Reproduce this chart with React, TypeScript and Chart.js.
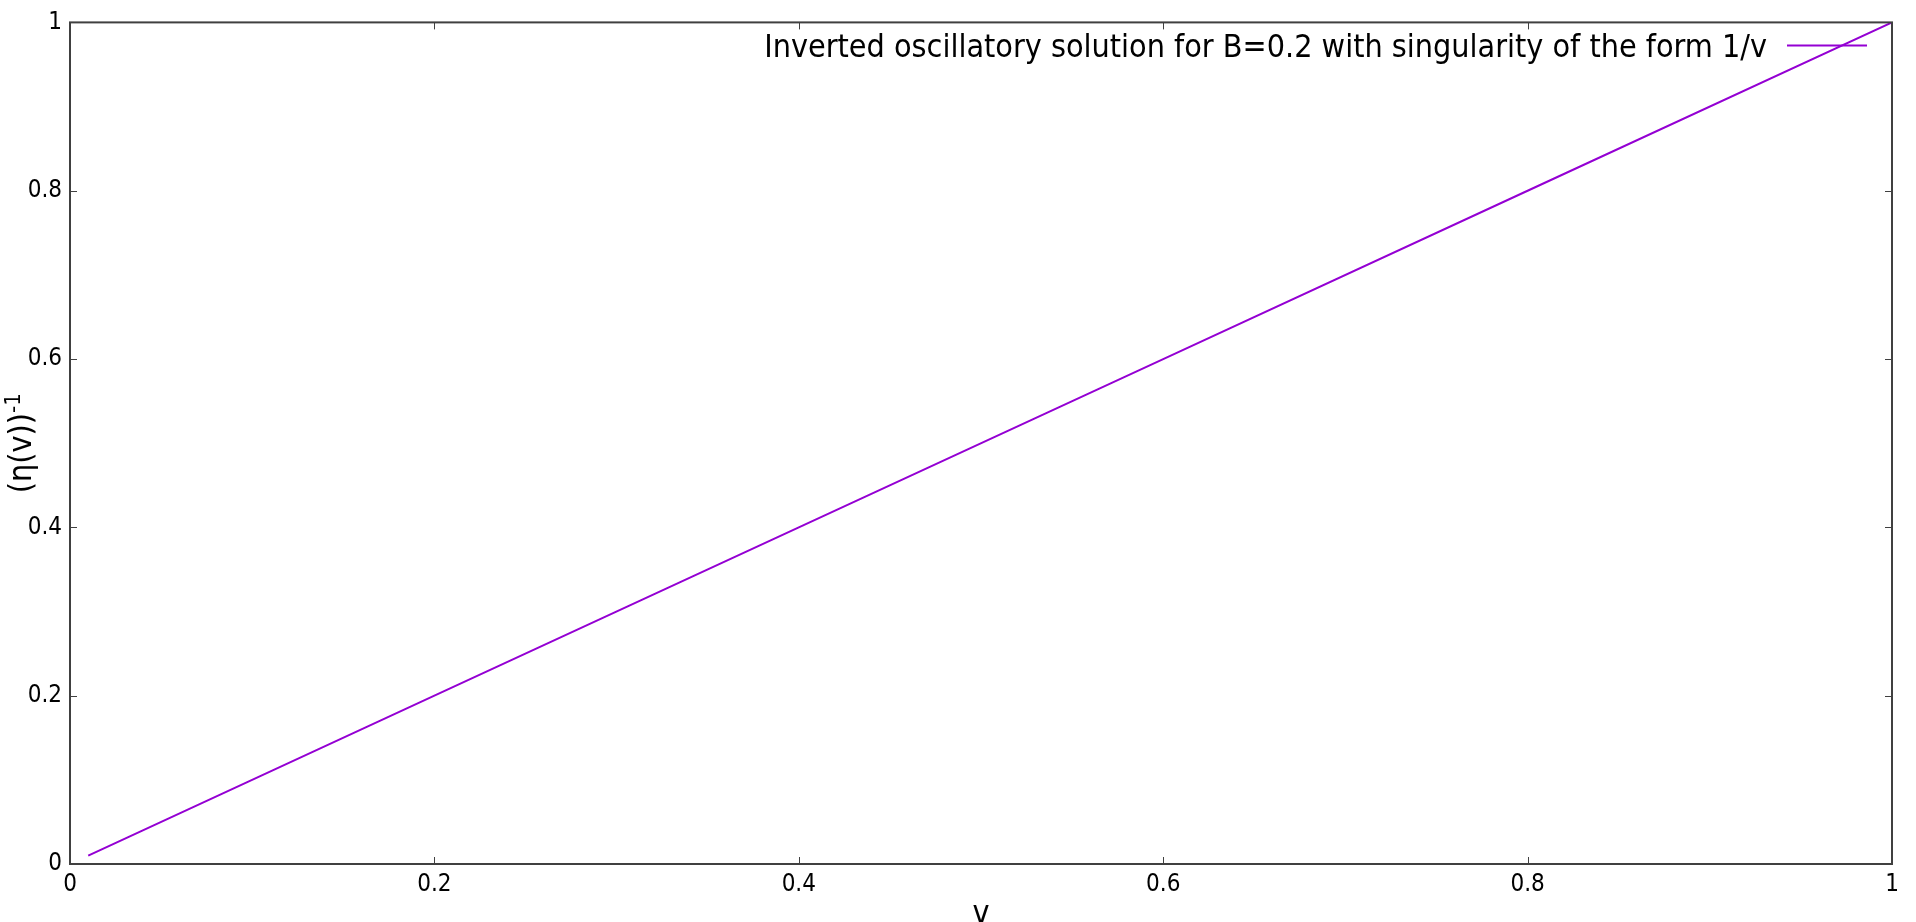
import React, { useEffect, useRef } from "react";
import { Chart, registerables } from "chart.js";

Chart.register(...registerables);

const FONT = '"DejaVu Sans Condensed", "DejaVu Sans", sans-serif';

const seriesLabel = "Inverted oscillatory solution for B=0.2 with singularity of the form 1/v";
const xValues = [0.01, 0.2, 0.4, 0.6, 0.8, 1.0];
const yValues = [0.01, 0.2, 0.4, 0.6, 0.8, 1.0];
const xTitle = "v";
const yTitleMain = "(η(v))";
const yTitleSup = "-1";
const lineColor = "#9400D3";
const axisColor = "#404040";

const frameTicks = {
  id: "frameTicks",
  afterDatasetsDraw(chart: any) {
    const { ctx, chartArea, scales } = chart;
    const { left, right, top, bottom } = chartArea;
    const len = 7;
    ctx.save();
    ctx.strokeStyle = axisColor;
    ctx.lineWidth = 1;
    ctx.beginPath();
    scales.x.ticks.forEach((t: any) => {
      const px = Math.round(scales.x.getPixelForValue(t.value)) + 0.5;
      ctx.moveTo(px, bottom);
      ctx.lineTo(px, bottom - len);
      ctx.moveTo(px, top);
      ctx.lineTo(px, top + len);
    });
    scales.y.ticks.forEach((t: any) => {
      const py = Math.round(scales.y.getPixelForValue(t.value)) + 0.5;
      ctx.moveTo(left, py);
      ctx.lineTo(left + len, py);
      ctx.moveTo(right, py);
      ctx.lineTo(right - len, py);
    });
    ctx.stroke();
    // frame
    ctx.lineWidth = 2;
    ctx.strokeRect(left, top, right - left, bottom - top);
    ctx.restore();
  },
};

const titlesAndLegend = {
  id: "titlesAndLegend",
  afterDraw(chart: any) {
    const { ctx, chartArea } = chart;
    const { left, right, top, bottom } = chartArea;
    ctx.save();
    ctx.fillStyle = "#000";
    // legend
    const legY = 45.5;
    const sampleEnd = right - 25;
    const sampleStart = sampleEnd - 80;
    ctx.font = `32px ${FONT}`;
    ctx.textAlign = "right";
    ctx.textBaseline = "alphabetic";
    ctx.fillText(seriesLabel, sampleStart - 20, legY + 11.5);
    ctx.strokeStyle = lineColor;
    ctx.lineWidth = 2;
    ctx.beginPath();
    ctx.moveTo(sampleStart, legY);
    ctx.lineTo(sampleEnd, legY);
    ctx.stroke();
    // x title
    ctx.textAlign = "center";
    ctx.font = `32px ${FONT}`;
    ctx.fillText(xTitle, (left + right) / 2, 923);
    // y title
    ctx.translate(0, (top + bottom) / 2);
    ctx.rotate(-Math.PI / 2);
    ctx.textAlign = "left";
    ctx.font = `32px ${FONT}`;
    const w1 = ctx.measureText(yTitleMain).width;
    ctx.font = `22px ${FONT}`;
    const w2 = ctx.measureText(yTitleSup).width;
    const start = -(w1 + w2) / 2;
    ctx.font = `32px ${FONT}`;
    ctx.fillText(yTitleMain, start, 30.5);
    ctx.font = `22px ${FONT}`;
    ctx.fillText(yTitleSup, start + w1, 20);
    ctx.restore();
  },
};

export default function App() {
  const ref = useRef<HTMLCanvasElement | null>(null);
  useEffect(() => {
    document.body.style.margin = "0";
    document.body.style.overflow = "hidden";
    const data = xValues.map((x, i) => ({ x, y: yValues[i] }));
    const chart = new Chart(ref.current as HTMLCanvasElement, {
      type: "line",
      data: {
        datasets: [
          {
            label: seriesLabel,
            data,
            borderColor: lineColor,
            borderWidth: 2,
            pointRadius: 0,
            fill: false,
            tension: 0,
          },
        ],
      },
      plugins: [frameTicks, titlesAndLegend],
      options: {
        animation: false,
        responsive: false,
        maintainAspectRatio: false,
        layout: { padding: { top: 19, right: 24, left: 0, bottom: 0 } },
        plugins: { legend: { display: false }, tooltip: { enabled: false } },
        scales: {
          x: {
            type: "linear",
            min: 0,
            max: 1,
            ticks: {
              stepSize: 0.2,
              color: "#000",
              font: { family: FONT, size: 24 },
              padding: 6,
              maxRotation: 0,
              callback: (v: any) => String(Math.round(Number(v) * 10) / 10),
            },
            grid: { display: false, drawTicks: false },
            border: { display: false },
            afterFit: (s: any) => {
              s.height = 58;
            },
          },
          y: {
            type: "linear",
            min: 0,
            max: 1,
            ticks: {
              stepSize: 0.2,
              color: "#000",
              font: { family: FONT, size: 24 },
              padding: 8,
              callback: (v: any) => String(Math.round(Number(v) * 10) / 10),
            },
            grid: { display: false, drawTicks: false },
            border: { display: false },
            afterFit: (s: any) => {
              s.width = 70;
            },
          },
        },
      },
    });
    return () => chart.destroy();
  }, []);
  return (
    <canvas
      ref={ref}
      width={1916}
      height={922}
      style={{ position: "absolute", left: 0, top: 0, width: 1916, height: 922, display: "block" }}
    />
  );
}
